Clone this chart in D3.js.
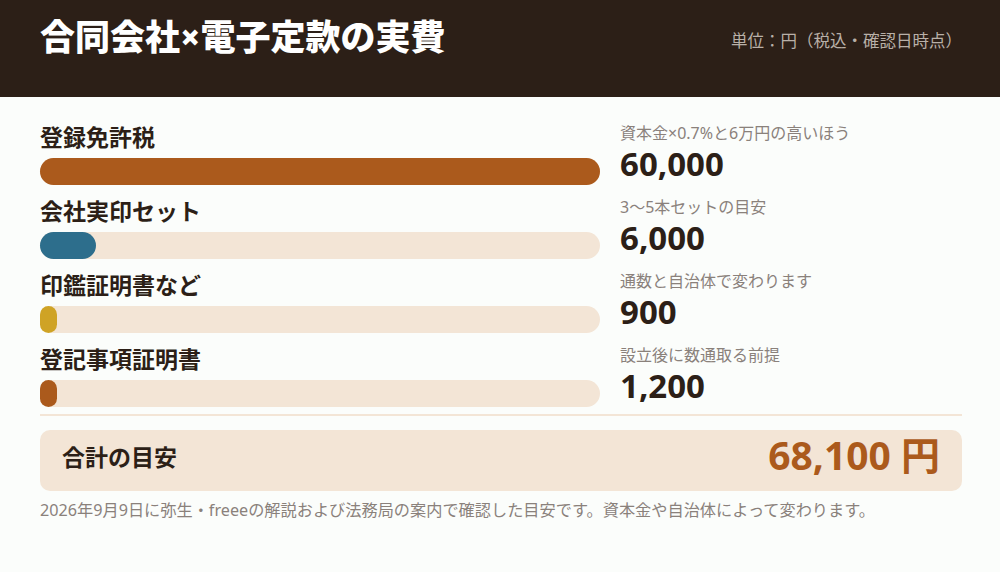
<!DOCTYPE html>
<meta charset="UTF-8">
<title>合同会社×電子定款の実費</title>
<style>
  body { margin: 0; background: #fbfdfb; }
  svg { display: block; font-family: "Noto Sans", "Noto Sans CJK JP", sans-serif; }
</style>
<svg width="1000" height="572"></svg>
<script src="https://d3js.org/d3.v7.min.js"></script>
<script>
var items = ["登録免許税", "会社実印セット", "印鑑証明書など", "登記事項証明書"];
var amounts = [60000, 6000, 900, 1200];
var notes = ["資本金×0.7%と6万円の高いほう", "3〜5本セットの目安", "通数と自治体で変わります", "設立後に数通取る前提"];
var colors = ["#ab5a1c", "#2d6e8c", "#cfa325", "#ab5a1c"];

var svg = d3.select("svg"),
    width = 1000,
    left = 40, right = 962,
    barRight = 600, barH = 27,
    rowTop = 120, rowH = 74;

var fmt = d3.format(",");
var total = d3.sum(amounts);

// header
svg.append("rect").attr("width", width).attr("height", 97).attr("fill", "#2c1f17");
svg.append("text")
    .attr("x", left).attr("y", 50)
    .attr("fill", "#fff")
    .attr("font-size", 35).attr("font-weight", 900)
    .text("合同会社×電子定款の実費");
svg.append("text")
    .attr("x", right).attr("y", 47)
    .attr("text-anchor", "end")
    .attr("fill", "#b9b0a8")
    .attr("font-size", 16.5)
    .text("単位：円（税込・確認日時点）");

var x = d3.scaleLinear()
    .domain([0, d3.max(amounts)])
    .range([0, barRight - left]);

var y = d3.scaleBand()
    .domain(items)
    .range([rowTop, rowTop + rowH * items.length]);

var row = svg.selectAll(".row")
  .data(items)
  .enter().append("g")
    .attr("class", "row")
    .attr("transform", function(d) { return "translate(0," + y(d) + ")"; });

row.append("text")
    .attr("x", left).attr("y", 26)
    .attr("fill", "#2c1f17")
    .attr("font-size", 23).attr("font-weight", 700)
    .text(function(d) { return d; });

row.append("rect")
    .attr("x", left).attr("y", 38)
    .attr("width", barRight - left).attr("height", barH)
    .attr("rx", barH / 2)
    .attr("fill", "#f3e5d6");

// small amounts keep a minimum pill so they stay visible
row.append("rect")
    .attr("x", left).attr("y", 38)
    .attr("width", function(d, i) { return Math.max(x(amounts[i]), 17); })
    .attr("height", barH)
    .attr("rx", function(d, i) { return Math.min(barH, Math.max(x(amounts[i]), 17)) / 2; })
    .attr("fill", function(d, i) { return colors[i]; });

row.append("text")
    .attr("x", 620).attr("y", 19)
    .attr("fill", "#8a817b")
    .attr("font-size", 16)
    .text(function(d, i) { return notes[i]; });

row.append("text")
    .attr("x", 620).attr("y", 56)
    .attr("fill", "#2c1f17")
    .attr("font-size", 33).attr("font-weight", 700)
    .text(function(d, i) { return fmt(amounts[i]); });

// divider
svg.append("line")
    .attr("x1", left).attr("x2", right)
    .attr("y1", 415).attr("y2", 415)
    .attr("stroke", "#f3e5d6").attr("stroke-width", 2);

// total box
svg.append("rect")
    .attr("x", left).attr("y", 430)
    .attr("width", right - left).attr("height", 61)
    .attr("rx", 10)
    .attr("fill", "#f3e5d6");
svg.append("text")
    .attr("x", 62).attr("y", 466)
    .attr("fill", "#2c1f17")
    .attr("font-size", 23).attr("font-weight", 700)
    .text("合計の目安");
svg.append("text")
    .attr("x", 940).attr("y", 470)
    .attr("text-anchor", "end")
    .attr("fill", "#ab5a1c")
    .attr("font-size", 39).attr("font-weight", 700)
    .text(fmt(total) + " 円");

svg.append("text")
    .attr("x", left).attr("y", 516)
    .attr("fill", "#8a817b")
    .attr("font-size", 16.2)
    .text("2026年9月9日に弥生・freeeの解説および法務局の案内で確認した目安です。資本金や自治体によって変わります。");
</script>
